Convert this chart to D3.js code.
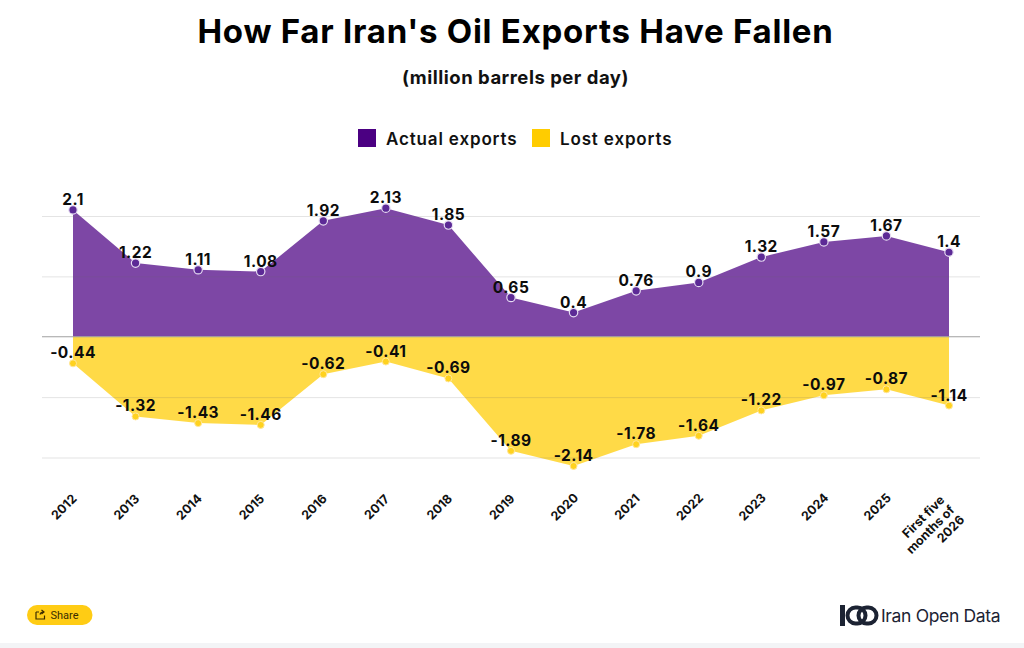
<!DOCTYPE html>
<html>
<head>
<meta charset="utf-8">
<script src="https://cdn.jsdelivr.net/npm/d3@7"></script>
<style>
html, body { margin: 0; padding: 0; background: #fff; overflow: hidden; }
svg { display: block; font-family: "Inter", sans-serif; }
</style>
</head>
<body>
<svg id="chart" width="1024" height="648"></svg>
<script>
// Chart data
var years = ["2012", "2013", "2014", "2015", "2016", "2017", "2018", "2019", "2020", "2021", "2022", "2023", "2024", "2025", "First five months of 2026"];
var actualExports = [2.1, 1.22, 1.11, 1.08, 1.92, 2.13, 1.85, 0.65, 0.4, 0.76, 0.9, 1.32, 1.57, 1.67, 1.4];
var lostExports = [-0.44, -1.32, -1.43, -1.46, -0.62, -0.41, -0.69, -1.89, -2.14, -1.78, -1.64, -1.22, -0.97, -0.87, -1.14];
var gridValues = [-2, -1, 1, 2];
var legendNames = ["Actual exports", "Lost exports"];

var purple = "#4b0082";
var yellow = "#ffcc00";

var svg = d3.select("#chart");

var x = d3.scalePoint().domain(years).range([73, 949]);
var y = d3.scaleLinear().domain([-2, 2]).range([457.5, 216]);

// Bottom strip of the page
svg.append("rect")
    .attr("x", 0).attr("y", 643)
    .attr("width", 1024).attr("height", 5)
    .attr("fill", "#f3f4f6");

// Titles
svg.append("text")
    .text("How Far Iran's Oil Exports Have Fallen")
    .attr("x", 515.5).attr("y", 43)
    .attr("text-anchor", "middle")
    .attr("font-size", 33)
    .attr("font-weight", 700)
    .attr("letter-spacing", 0.75)
    .attr("fill", "#000");

svg.append("text")
    .text("(million barrels per day)")
    .attr("x", 515.5).attr("y", 84)
    .attr("text-anchor", "middle")
    .attr("font-size", 18.5)
    .attr("font-weight", 700)
    .attr("letter-spacing", 0.5)
    .attr("fill", "#111");

// Legend
var legendX = [358, 532];
var legend = svg.selectAll(".legend")
    .data(legendNames)
    .enter().append("g")
    .attr("class", "legend")
    .attr("transform", function(d, i) {
        return "translate(" + legendX[i] + ",129)";
    });

legend.append("rect")
    .attr("width", 18).attr("height", 18)
    .attr("fill", function(d, i) { return i === 0 ? purple : yellow; });

legend.append("text")
    .text(function(d) { return d; })
    .attr("x", 28).attr("y", 15.5)
    .attr("font-size", 17)
    .attr("font-weight", 600)
    .attr("letter-spacing", 0.85)
    .attr("fill", "#111");

// Areas
function areaFor(values) {
    return d3.area()
        .x(function(d, i) { return x(years[i]); })
        .y0(y(0))
        .y1(function(d) { return y(d); })(values);
}

svg.append("path")
    .attr("d", areaFor(actualExports))
    .attr("fill", purple)
    .attr("fill-opacity", 0.72);

svg.append("path")
    .attr("d", areaFor(lostExports))
    .attr("fill", yellow)
    .attr("fill-opacity", 0.72);

// Grid lines
var grid = svg.append("g")
    .attr("transform", "translate(42,0)")
    .call(d3.axisLeft(y).tickValues(gridValues).tickSize(-938).tickFormat(""));
grid.select(".domain").remove();
grid.selectAll("line").attr("stroke", "#6b6b6b").attr("stroke-opacity", 0.18);

svg.append("line")
    .attr("x1", 42).attr("x2", 980)
    .attr("y1", y(0)).attr("y2", y(0))
    .attr("stroke", "#a0a0a0")
    .attr("stroke-width", 1.2);

// Point markers
svg.selectAll(".dotActual")
    .data(actualExports)
    .enter().append("circle")
    .attr("class", "dotActual")
    .attr("cx", function(d, i) { return x(years[i]); })
    .attr("cy", function(d) { return y(d); })
    .attr("r", 4.2)
    .attr("fill", "#5c2a96")
    .attr("stroke", "#e6dcf2")
    .attr("stroke-width", 1.2);

svg.selectAll(".dotLost")
    .data(lostExports)
    .enter().append("circle")
    .attr("class", "dotLost")
    .attr("cx", function(d, i) { return x(years[i]); })
    .attr("cy", function(d) { return y(d); })
    .attr("r", 3.5)
    .attr("fill", "#ffd21f")
    .attr("stroke", "#ffe79a")
    .attr("stroke-width", 1);

// Value labels
function addLabels(values, cls) {
    svg.selectAll("." + cls)
        .data(values)
        .enter().append("text")
        .attr("class", cls)
        .text(function(d) { return d; })
        .attr("x", function(d, i) { return x(years[i]); })
        .attr("y", function(d) { return y(d) - 5; })
        .attr("text-anchor", "middle")
        .attr("font-size", 15.5)
        .attr("font-weight", 700)
        .attr("letter-spacing", 0.45)
        .attr("fill", "#0c0c0c");
}
addLabels(actualExports, "labelActual");
addLabels(lostExports, "labelLost");

// X axis, labels turned 45 degrees
var xAxis = svg.append("g")
    .attr("transform", "translate(0,500)")
    .call(d3.axisBottom(x).tickSize(0).tickFormat(""));
xAxis.select(".domain").remove();

xAxis.selectAll(".tick text").each(function(d) {
    var label = d3.select(this);
    label.attr("font-size", 12.5)
        .attr("font-weight", 700)
        .attr("fill", "#111")
        .attr("font-family", "Inter, sans-serif")
        .attr("y", 0)
        .attr("dy", null);
    if (d.length > 4) {
        // long label is right aligned, one line under the other
        var lines = ["First five", "months of", "2026"];
        label.attr("text-anchor", "end")
            .attr("transform", "translate(-7,-2) rotate(-45)");
        lines.forEach(function(line, i) {
            label.append("tspan")
                .text(line)
                .attr("x", 0)
                .attr("y", i * 14 + 4);
        });
    } else {
        label.text(d)
            .attr("text-anchor", "middle")
            .attr("transform", "translate(-6.5,10) rotate(-45)");
    }
});

// Share button
var share = svg.append("g").attr("transform", "translate(27,605)");
share.append("rect")
    .attr("width", 65.5).attr("height", 20).attr("rx", 10)
    .attr("fill", "#ffcc14");
share.append("path")
    .attr("d", "M9 7H12M9 7V14H17.5V10.5M13 9.5C13.5 7.5 14.5 7 16 7M14.5 5L17 7L14.5 9")
    .attr("fill", "none")
    .attr("stroke", "#3a2c00")
    .attr("stroke-width", 1.2);
share.append("text")
    .text("Share")
    .attr("x", 23.5).attr("y", 14)
    .attr("font-size", 11)
    .attr("font-family", "Roboto, sans-serif")
    .attr("fill", "#3a2c00");

// Logo
var logo = svg.append("g").attr("transform", "translate(840,605)").attr("fill", "none").attr("stroke", "#1c2333");
logo.append("rect")
    .attr("x", 0).attr("y", 0).attr("width", 5).attr("height", 21)
    .attr("fill", "#1c2333").attr("stroke", "none");
logo.append("rect")
    .attr("x", 7.5).attr("y", 2.5).attr("width", 18).attr("height", 16).attr("rx", 8)
    .attr("stroke-width", 4);
logo.append("rect")
    .attr("x", 18.5).attr("y", 2.5).attr("width", 18).attr("height", 16).attr("rx", 8)
    .attr("stroke-width", 4);

svg.append("text")
    .text("Iran Open Data")
    .attr("x", 881).attr("y", 622)
    .attr("font-size", 17.5)
    .attr("font-weight", 400)
    .attr("letter-spacing", -0.35)
    .attr("fill", "#1c2333");
</script>
</body>
</html>
